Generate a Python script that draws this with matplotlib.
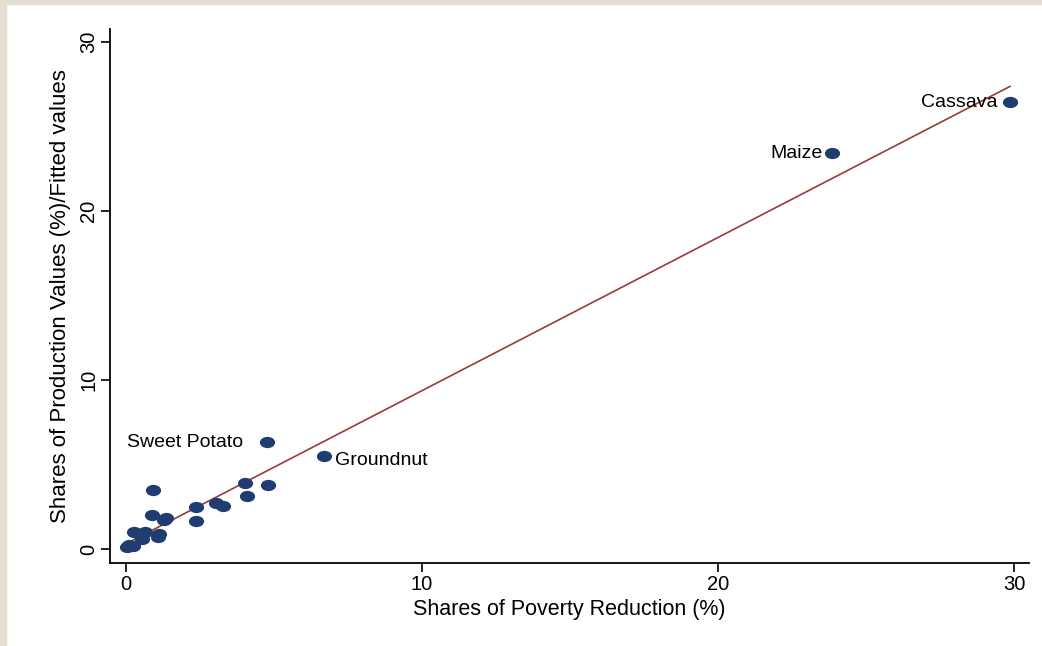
import matplotlib
matplotlib.use("Agg")
import matplotlib.pyplot as plt
import numpy as np
from matplotlib.path import Path
from matplotlib.transforms import Affine2D

plt.rcParams['font.family'] = ['Liberation Sans', 'DejaVu Sans']

# ----------------------------
# Data
# ----------------------------
poverty_share = [0.05, 0.15, 0.25, 0.10, 0.27, 0.64, 0.54, 1.08, 1.10,
                 0.88, 0.91, 1.30, 1.36, 2.36, 2.36, 3.04, 3.28, 4.02,
                 4.09, 4.80, 4.76, 6.69, 23.85, 29.86]
production_share = [0.10, 0.15, 0.20, 0.25, 1.00, 1.00, 0.59, 0.71, 0.90,
                    2.01, 3.49, 1.72, 1.85, 2.49, 1.66, 2.72, 2.54, 3.91,
                    3.14, 3.79, 6.33, 5.50, 23.43, 26.45]
# index -> (name, x offset in points)
labels = {20: ("Sweet Potato", -17), 21: ("Groundnut", 8),
          22: ("Maize", -6.5), 23: ("Cassava", -9)}

x = np.array(poverty_share)
y = np.array(production_share)
slope, intercept = np.polyfit(x, y, 1)
x_fit = np.array([x.min(), x.max()])
y_fit = intercept + slope * x_fit

# ellipse marker
ellipse = Path.unit_circle().transformed(Affine2D().scale(1.0, 0.74))

fig = plt.figure(figsize=(10.42, 6.46), dpi=100)
fig.patch.set_facecolor("white")
# beige frame strips
fig.patches.append(plt.Rectangle((0, 0), 6 / 1042, 1, transform=fig.transFigure,
                                 color="#e4ddd0", zorder=0))
fig.patches.append(plt.Rectangle((0, 1 - 4 / 646), 1, 4 / 646, transform=fig.transFigure,
                                 color="#e4ddd0", zorder=0))

ax = fig.add_axes([110 / 1042, 83 / 646, 919 / 1042, 534 / 646])
ax.scatter(x, y, s=120, marker=ellipse, color="#1f3d70", linewidths=0, zorder=3)
ax.plot(x_fit, y_fit, color="#9b3a3a", linewidth=1.2, zorder=2)

for i, (name, dx) in labels.items():
    if dx < 0:
        ax.annotate(name, (x[i], y[i]), xytext=(dx, 0), textcoords="offset points",
                    ha="right", va="center", fontsize=14)
    else:
        ax.annotate(name, (x[i], y[i]), xytext=(dx, -3), textcoords="offset points",
                    ha="left", va="center", fontsize=14)

ax.set_xlim(-0.54, 30.5)
ax.set_ylim(-0.83, 30.77)
ax.set_xticks([0, 10, 20, 30])
ax.set_yticks([0, 10, 20, 30])
ax.spines["top"].set_visible(False)
ax.spines["right"].set_visible(False)
ax.spines["left"].set_linewidth(1.3)
ax.spines["bottom"].set_linewidth(1.3)
ax.tick_params(length=6.5, width=1.2, labelsize=14.5, pad=2)
plt.setp(ax.get_yticklabels(), rotation=90, va="center")

ax.set_xlabel("Shares of Poverty Reduction (%)", fontsize=15.5, labelpad=4)
ax.set_ylabel("Shares of Production Values (%)/Fitted values", fontsize=16, labelpad=6)

plt.savefig("out.png", dpi=100)
